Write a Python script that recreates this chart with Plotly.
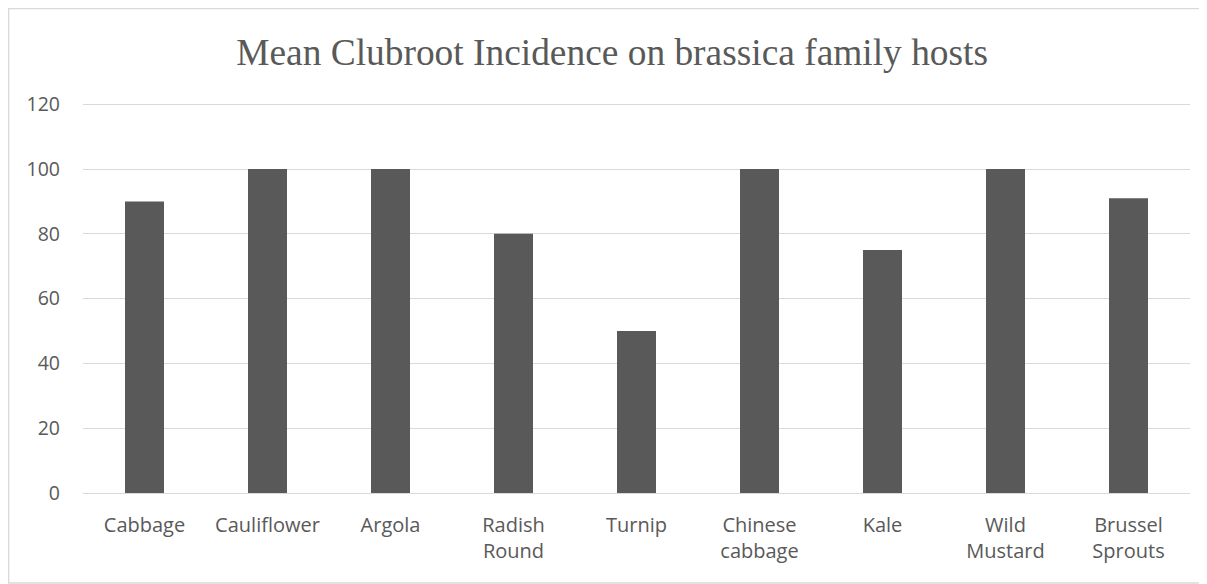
import plotly.graph_objects as go

categories = ["Cabbage", "Cauliflower", "Argola", "Radish<br>Round", "Turnip",
              "Chinese<br>cabbage", "Kale", "Wild<br>Mustard", "Brussel<br>Sprouts"]
incidence = [90, 100, 100, 80, 50, 100, 75, 100, 91]
y_ticks = [0, 20, 40, 60, 80, 100, 120]

# page body has an 8px margin, so the figure is drawn at (8, 8) on screen
W, H = 1199, 576
L, R, T, B = 75, 17, 93, 91
pw, ph = W - L - R, H - T - B
Y_MAX = 121

fig = go.Figure(go.Bar(x=categories, y=incidence, marker=dict(color="#595959", line=dict(width=0)),
                       hoverinfo="x+y"))

fig.update_layout(
    width=W, height=H,
    margin=dict(l=L, r=R, t=T, b=B),
    paper_bgcolor="white", plot_bgcolor="white",
    bargap=0.683,
    showlegend=False,
    title=dict(text="Mean Clubroot Incidence on brassica family hosts",
               font=dict(family="Liberation Serif", size=37.4, color="#595959"),
               x=0.478, xanchor="center", xref="paper", y=1 - 44 / H, yanchor="middle"),
    xaxis=dict(showgrid=False, showline=False, zeroline=False, ticks="",
               tickfont=dict(family="Open Sans", size=20, color="#595959"),
               ticklabelstandoff=18),
    yaxis=dict(range=[0, Y_MAX], tickvals=y_ticks, showgrid=True, gridcolor="#d9d9d9", gridwidth=1.3,
               zeroline=True, zerolinecolor="#d9d9d9", zerolinewidth=1.3, showline=False, ticks="",
               tickfont=dict(family="Open Sans", size=19.5, color="#595959"),
               ticklabelstandoff=22),
    shapes=[dict(type="rect", xref="paper", yref="paper",
                 x0=(0.7 - L) / pw, x1=(1240 - L) / pw,
                 y0=(T + ph - 575) / ph, y1=(T + ph - 0.7) / ph,
                 line=dict(color="#d9d9d9", width=1.3), fillcolor="rgba(0,0,0,0)", layer="below")],
)

fig.write_html("out.html")
